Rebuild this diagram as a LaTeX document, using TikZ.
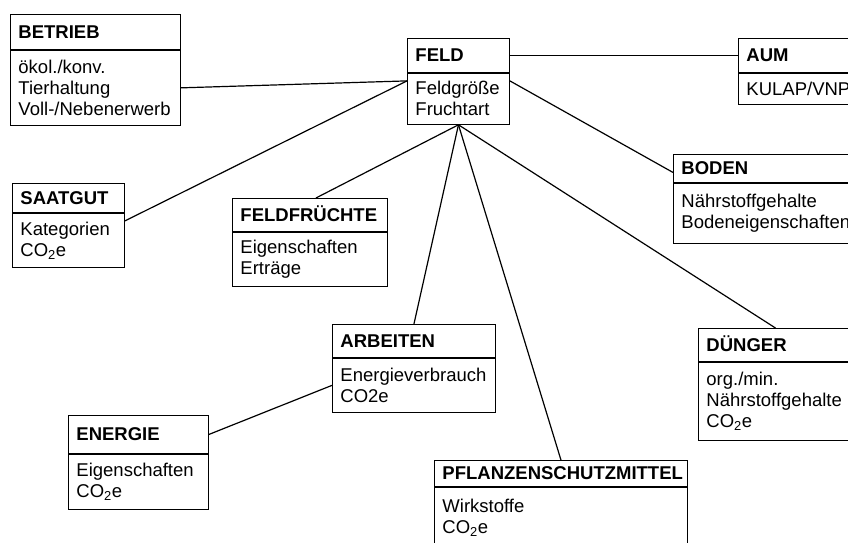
\documentclass[tikz,border=0pt]{standalone}
\usepackage{fontspec}
\setmainfont{Liberation Sans}
\usepackage{tikz}
\usetikzlibrary{positioning}
\hyphenpenalty=10000
\exhyphenpenalty=10000

\begin{document}
\begin{tikzpicture}[x=1pt, y=-1pt,
    head node/.style={draw, line width=0.9pt, anchor=north west, align=left, inner xsep=8pt, inner ysep=0pt, text height=13pt, text depth=0pt, font=\fontsize{18.5}{21}\selectfont\bfseries},
    body node/.style={draw, line width=0.9pt, below=0pt of #1, align=left, inner xsep=8pt, inner ysep=0pt, font=\fontsize{18.5}{21}\selectfont}]
    \useasboundingbox (0,0) rectangle (848,543);
    \clip (0,0) rectangle (848,543);

        \node[head node, text width=154pt, minimum height=35pt] (betrieb) at (10,14) {BETRIEB};
        \node[body node=betrieb, text width=154pt, minimum height=75pt] (betrieb-b) {ökol./konv.\\Tierhaltung\\Voll-/Nebenerwerb};

        \node[head node, text width=86pt, minimum height=34pt] (feld) at (407,38) {FELD};
        \node[body node=feld, text width=86pt, minimum height=51pt] (feld-b) {Feldgröße\\Fruchtart};

        \node[head node, text width=114pt, minimum height=34pt] (aum) at (738,38) {AUM};
        \node[body node=aum, text width=114pt, minimum height=31pt] (aum-b) {KULAP/VNP};

        \node[head node, text width=96pt, minimum height=29pt] (saatgut) at (12,183) {SAATGUT};
        \node[body node=saatgut, text width=96pt, minimum height=54pt] (saatgut-b) {Kategorien\\CO\textsubscript{2}e};

        \node[head node, text width=139pt, minimum height=33pt] (feldfr) at (232,198) {FELDFRÜCHTE};
        \node[body node=feldfr, text width=139pt, minimum height=54pt] (feldfr-b) {Eigenschaften\\Erträge};

        \node[head node, text width=169pt, minimum height=28pt] (boden) at (673,154) {BODEN};
        \node[body node=boden, text width=169pt, minimum height=60pt] (boden-b) {Nährstoffgehalte\\Bodeneigenschaften};

        \node[head node, text width=147pt, minimum height=33pt] (arbeiten) at (332,324) {ARBEITEN};
        \node[body node=arbeiten, text width=147pt, minimum height=54pt] (arbeiten-b) {Energieverbrauch\\CO2e};

        \node[head node, text width=138pt, minimum height=33pt] (duenger) at (698,328) {DÜNGER};
        \node[body node=duenger, text width=138pt, minimum height=78pt] (duenger-b) {org./min.\\Nährstoffgehalte\\CO\textsubscript{2}e};

        \node[head node, text width=124pt, minimum height=38pt] (energie) at (68,415) {ENERGIE};
        \node[body node=energie, text width=124pt, minimum height=55pt] (energie-b) {Eigenschaften\\CO\textsubscript{2}e};

        \node[head node, text width=237pt, minimum height=26pt] (psm) at (434,460) {PFLANZENSCHUTZMITTEL};
        \node[body node=psm, text width=237pt, minimum height=60pt] (psm-b) {Wirkstoffe\\CO\textsubscript{2}e};

        \path[line width=1.2pt]
        (betrieb-b.east) edge ([yshift=-8pt]feld-b.north west)
        ([yshift=-8pt]saatgut-b.north east) edge ([yshift=-8pt]feld-b.north west)
        (feld.east) edge (aum.west)
        ([yshift=-8pt]feld-b.north east) edge ([yshift=-4pt]boden.west)
        (feld-b.south) edge ([xshift=6pt]feldfr.north)
        (feld-b.south) edge (arbeiten.north)
        (feld-b.south) edge (psm.north)
        (feld-b.south) edge (duenger.north)
        (energie.east) edge (arbeiten-b.west);

    \end{tikzpicture}
\end{document}
